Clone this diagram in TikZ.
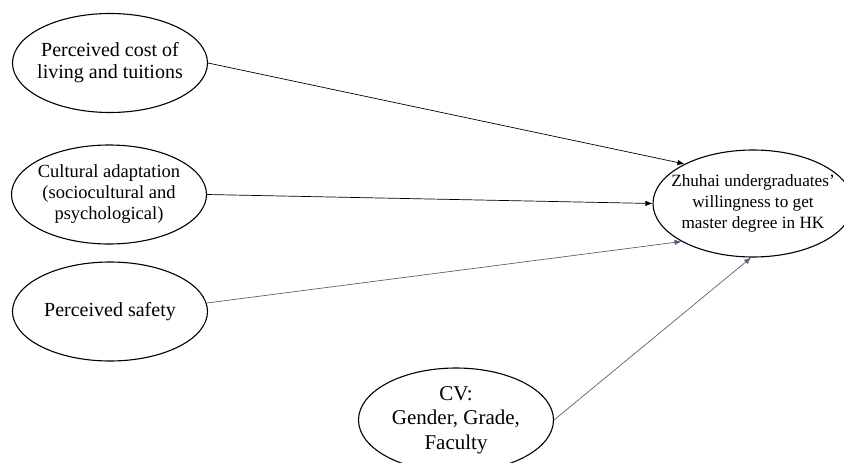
\documentclass[tikz,border=0pt]{standalone}
\usepackage{fontspec}
\setmainfont{Liberation Serif}
\usetikzlibrary{shapes.geometric,arrows.meta}
\definecolor{slate}{RGB}{84,98,128}
\tikzset{
  oval/.style={ellipse, draw=black, line width=1.1pt, inner xsep=-25pt, inner ysep=-8pt, align=center,
               minimum width=195pt, minimum height=99pt},
  link/.style={line width=0.7pt, -{Latex[length=7pt,width=5.5pt]}},
}
\begin{document}
\begin{tikzpicture}[x=1pt,y=-1pt]
\useasboundingbox (0,0) rectangle (844,463);
\node[oval, font=\fontsize{20}{22}\selectfont] (cost) at (110,63)
  {Perceived cost of\\living and tuitions};
\node[oval, font=\fontsize{18.5}{21}\selectfont] (cult) at (109,194.5)
  {Cultural adaptation\\(sociocultural and\\psychological)};
\node[oval, font=\fontsize{20}{22}\selectfont] (safe) at (110,311.5)
  {Perceived safety};
\node[oval, minimum height=104pt, font=\fontsize{21}{24.5}\selectfont] (cv) at (456,420)
  {CV:\\Gender, Grade,\\Faculty};
\node[oval, minimum width=200pt, minimum height=107pt, font=\fontsize{17.2}{21}\selectfont] (will) at (753,203.5)
  {Zhuhai undergraduates’\\willingness to get\\master degree in HK};
\draw[link, black] (cost.east) -- (will.150);
\draw[link, black] (cult.east) -- (will.west);
\draw[link, slate] (safe.5) -- (will.208);
\draw[link, slate] (cv.east) -- (will.268);
\end{tikzpicture}
\end{document}
